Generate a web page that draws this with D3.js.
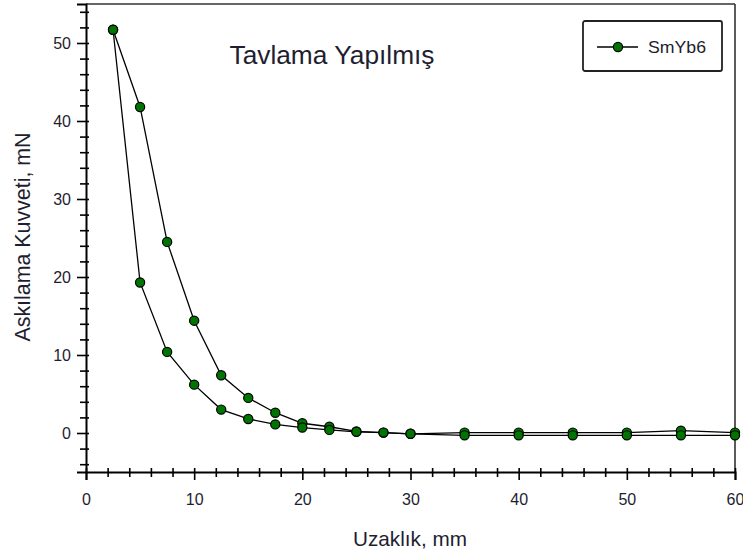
<!DOCTYPE html>
<html>
<head>
<meta charset="utf-8">
<script src="https://cdn.jsdelivr.net/npm/d3@7"></script>
<style>
  body { margin: 0; background: #fff; }
  text { font-family: "Liberation Sans", Arial, sans-serif; fill: #1e1e30; }
</style>
</head>
<body>
<div id="chart"></div>
<script>
// Chart data
const distance = [2.5, 5, 7.5, 10, 12.5, 15, 17.5, 20, 22.5, 25, 27.5, 30, 35, 40, 45, 50, 55, 60];
const forceUpper = [51.7, 41.8, 24.5, 14.4, 7.4, 4.5, 2.6, 1.25, 0.8, 0.2, 0.05, -0.1, 0.05, 0.05, 0.05, 0.05, 0.3, 0.05];
const forceLower = [51.7, 19.3, 10.4, 6.2, 3.0, 1.8, 1.1, 0.7, 0.4, 0.15, 0.05, -0.1, -0.3, -0.3, -0.3, -0.3, -0.3, -0.3];
const xTicks = [0, 10, 20, 30, 40, 50, 60];
const yTicks = [0, 10, 20, 30, 40, 50];
const seriesName = "SmYb6";

// Svg size
const svgWidth = 743;
const svgHeight = 557;

// Plot area
const margin = { top: 4, right: 8, bottom: 85, left: 86 };
const width = svgWidth - margin.left - margin.right;
const height = svgHeight - margin.top - margin.bottom;

const svg = d3.select("#chart")
              .append("svg")
              .attr("width", svgWidth)
              .attr("height", svgHeight);

const chartGroup = svg.append("g")
                      .attr("transform", `translate(${margin.left}, ${margin.top})`);

const xScale = d3.scaleLinear().domain([0, 60]).range([0, width]);
const yScale = d3.scaleLinear().domain([-5, 55]).range([height, 0]);

// Frame top and right
chartGroup.append("line")
          .attr("x1", 0).attr("x2", width).attr("y1", 0).attr("y2", 0)
          .attr("stroke", "#333").attr("stroke-width", 1.6);
chartGroup.append("line")
          .attr("x1", width).attr("x2", width).attr("y1", 0).attr("y2", height)
          .attr("stroke", "#333").attr("stroke-width", 1.6);

// Minor ticks (every 2 units), crossing the axis line
const xMinor = d3.range(0, 61, 2).filter(v => v % 10 !== 0);
const yMinor = d3.range(-4, 55, 2).filter(v => v % 10 !== 0);

chartGroup.append("g")
          .attr("transform", `translate(0, ${height})`)
          .call(d3.axisBottom(xScale).tickValues(xMinor).tickFormat("").tickSize(5))
          .call(g => g.select(".domain").remove())
          .call(g => g.selectAll(".tick line").attr("y1", -4).attr("stroke", "#000").attr("stroke-width", 1.6));

chartGroup.append("g")
          .call(d3.axisLeft(yScale).tickValues(yMinor).tickFormat("").tickSize(6))
          .call(g => g.select(".domain").remove())
          .call(g => g.selectAll(".tick line").attr("x1", 3).attr("stroke", "#000").attr("stroke-width", 1.6));

// Major axes
const xAxis = chartGroup.append("g")
                        .attr("transform", `translate(0, ${height})`)
                        .call(d3.axisBottom(xScale).tickValues(xTicks).tickSizeOuter(0).tickSize(8).tickPadding(14));
const yAxis = chartGroup.append("g")
                        .call(d3.axisLeft(yScale).tickValues(yTicks).tickSizeOuter(0).tickSize(9).tickPadding(6));

[xAxis, yAxis].forEach(ax => {
    ax.select(".domain").attr("stroke", "#000").attr("stroke-width", 2);
    ax.selectAll(".tick line").attr("stroke", "#000").attr("stroke-width", 1.6);
    ax.selectAll(".tick text").style("font-size", "16px").attr("fill", "#1e1e30");
});
xAxis.selectAll(".tick line").attr("y1", -4);
yAxis.selectAll(".tick line").attr("x1", 3);

// Lines
const line = d3.line()
               .x(d => xScale(d[0]))
               .y(d => yScale(d[1]));

[forceUpper, forceLower].forEach(values => {
    const pts = distance.map((x, i) => [x, values[i]]);
    chartGroup.append("path")
              .datum(pts)
              .attr("d", line)
              .attr("fill", "none")
              .attr("stroke", "#000")
              .attr("stroke-width", 1.3);
});

// Markers
[forceUpper, forceLower].forEach(values => {
    chartGroup.append("g")
              .selectAll("circle")
              .data(distance.map((x, i) => [x, values[i]]))
              .enter()
              .append("circle")
              .attr("cx", d => xScale(d[0]))
              .attr("cy", d => yScale(d[1]))
              .attr("r", 4.6)
              .attr("fill", "#007400")
              .attr("stroke", "#000")
              .attr("stroke-width", 1.2);
});

// Title
svg.append("text")
   .attr("x", 332)
   .attr("y", 64)
   .attr("text-anchor", "middle")
   .attr("textLength", 205)
   .attr("lengthAdjust", "spacingAndGlyphs")
   .style("font-size", "25px")
   .text("Tavlama Yapılmış");

// Legend
const legend = svg.append("g").attr("transform", "translate(583, 21)");
legend.append("rect")
      .attr("width", 139).attr("height", 50).attr("rx", 2)
      .attr("fill", "#fff").attr("stroke", "#222").attr("stroke-width", 1.8);
legend.append("line")
      .attr("x1", 14).attr("x2", 55).attr("y1", 26).attr("y2", 26)
      .attr("stroke", "#000").attr("stroke-width", 1.3);
legend.append("circle")
      .attr("cx", 35).attr("cy", 26).attr("r", 4.6)
      .attr("fill", "#007400").attr("stroke", "#000").attr("stroke-width", 1.2);
legend.append("text")
      .attr("x", 65).attr("y", 32)
      .attr("textLength", 58)
      .attr("lengthAdjust", "spacingAndGlyphs")
      .style("font-size", "17px")
      .text(seriesName);

// Axis labels
svg.append("text")
   .attr("x", 410)
   .attr("y", 546)
   .attr("text-anchor", "middle")
   .attr("textLength", 114)
   .attr("lengthAdjust", "spacingAndGlyphs")
   .style("font-size", "21px")
   .text("Uzaklık, mm");

svg.append("text")
   .attr("transform", "translate(30, 237) rotate(-90)")
   .attr("text-anchor", "middle")
   .attr("textLength", 209)
   .attr("lengthAdjust", "spacingAndGlyphs")
   .style("font-size", "22px")
   .text("Askılama Kuvveti, mN");
</script>
</body>
</html>
